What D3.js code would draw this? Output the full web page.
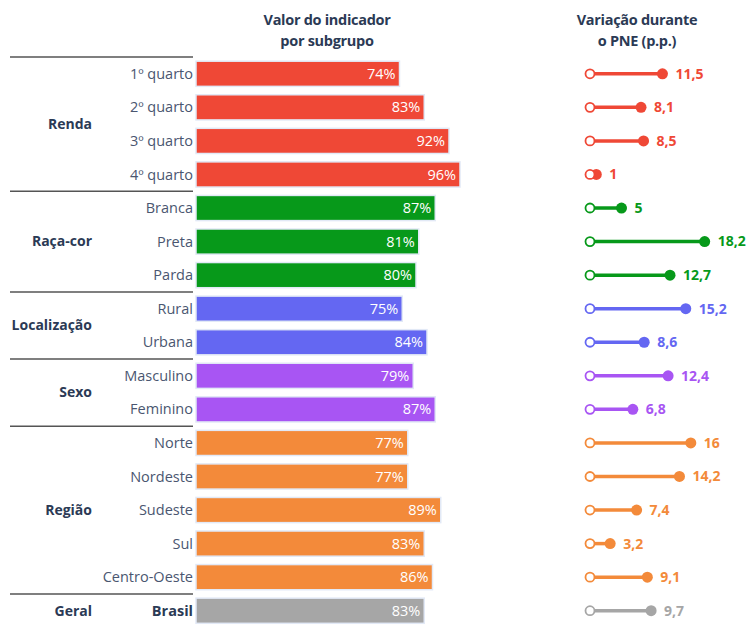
<!DOCTYPE html>
<html>
<head>
<meta charset="utf-8">
<script src="https://cdn.jsdelivr.net/npm/d3@7"></script>
<style>
  body { margin: 0; background: #fff; }
  text { font-family: "Open Sans", "Noto Sans", sans-serif; }
</style>
</head>
<body>
<div id="chart"></div>
<script>
// subgroups, in order top to bottom
var subgroups = ["1º quarto", "2º quarto", "3º quarto", "4º quarto",
    "Branca", "Preta", "Parda",
    "Rural", "Urbana",
    "Masculino", "Feminino",
    "Norte", "Nordeste", "Sudeste", "Sul", "Centro-Oeste",
    "Brasil"];
var group_of = ["Renda", "Renda", "Renda", "Renda",
    "Raça-cor", "Raça-cor", "Raça-cor",
    "Localização", "Localização",
    "Sexo", "Sexo",
    "Região", "Região", "Região", "Região", "Região",
    "Geral"];
var groups = ["Renda", "Raça-cor", "Localização", "Sexo", "Região", "Geral"];
var values = [74, 83, 92, 96, 87, 81, 80, 75, 84, 79, 87, 77, 77, 89, 83, 86, 83];
var variation = [11.5, 8.1, 8.5, 1, 5, 18.2, 12.7, 15.2, 8.6, 12.4, 6.8, 16, 14.2, 7.4, 3.2, 9.1, 9.7];
var group_colors = { "Renda": "#ef4836", "Raça-cor": "#07991a", "Localização": "#6467f2",
    "Sexo": "#a855f3", "Região": "#f38a3a", "Geral": "#a6a6a6" };

var width = 750, height = 625;
var svg = d3.select("#chart").append("svg")
    .attr("width", width)
    .attr("height", height);

var y = d3.scaleBand()
    .domain(d3.range(subgroups.length))
    .range([57, 627.5])
    .paddingInner(0.25)
    .paddingOuter(0.125);
var step = y.step();
function yc(i) { return y(i) + y.bandwidth() / 2; }

var x = d3.scaleLinear().domain([0, 100]).range([196, 471]);
var xv = d3.scaleLinear().domain([0, 20]).range([590, 716]);

var fmt = function (v) { return String(v).replace(".", ","); };

// headers
var title_color = "#2b3a55";
[["Valor do indicador", "por subgrupo", 327], ["Variação durante", "o PNE (p.p.)", 637]].forEach(function (h) {
    var t = svg.append("text")
        .attr("x", h[2]).attr("y", 25)
        .attr("text-anchor", "middle")
        .attr("font-size", 14.5).attr("font-weight", "bold")
        .attr("letter-spacing", -0.3)
        .attr("fill", title_color);
    t.append("tspan").attr("x", h[2]).text(h[0]);
    t.append("tspan").attr("x", h[2]).attr("dy", 21).text(h[1]);
});

// separator lines + group labels
groups.forEach(function (g) {
    var idx = d3.range(subgroups.length).filter(function (i) { return group_of[i] == g; });
    var first = idx[0], last = idx[idx.length - 1];
    svg.append("line")
        .attr("x1", 10).attr("x2", 193)
        .attr("y1", yc(first) - step / 2).attr("y2", yc(first) - step / 2)
        .attr("stroke", "#555").attr("stroke-width", 1.5);
    svg.append("text")
        .attr("x", 92)
        .attr("y", (yc(first) + yc(last)) / 2)
        .attr("dy", "0.35em")
        .attr("text-anchor", "end")
        .attr("font-size", 14).attr("font-weight", "bold")
        .attr("fill", title_color)
        .text(g);
});

// subgroup labels
svg.selectAll(".sub-label").data(subgroups)
    .enter().append("text")
    .attr("class", "sub-label")
    .attr("x", 193)
    .attr("y", function (d, i) { return yc(i); })
    .attr("dy", "0.35em")
    .attr("text-anchor", "end")
    .attr("font-size", 14.5)
    .attr("font-weight", function (d) { return d == "Brasil" ? "bold" : "normal"; })
    .attr("fill", function (d) { return d == "Brasil" ? title_color : "#4a5670"; })
    .text(function (d) { return d; });

// bars
svg.selectAll(".bar").data(values)
    .enter().append("rect")
    .attr("class", "bar")
    .attr("x", x(0))
    .attr("y", function (d, i) { return y(i); })
    .attr("width", function (d) { return x(d) - x(0); })
    .attr("height", y.bandwidth())
    .attr("fill", function (d, i) { return group_colors[group_of[i]]; })
    .attr("stroke", "#e2e9f6")
    .attr("stroke-width", 1.5);

svg.selectAll(".bar-label").data(values)
    .enter().append("text")
    .attr("class", "bar-label")
    .attr("x", function (d) { return x(d) - 4; })
    .attr("y", function (d, i) { return yc(i); })
    .attr("dy", "0.35em")
    .attr("text-anchor", "end")
    .attr("font-size", 14.5)
    .attr("fill", "#fff")
    .text(function (d) { return d + "%"; });

// dumbbells
var db = svg.selectAll(".db").data(variation)
    .enter().append("g")
    .attr("class", "db");
db.append("line")
    .attr("x1", xv(0))
    .attr("x2", function (d) { return xv(d); })
    .attr("y1", function (d, i) { return yc(i); })
    .attr("y2", function (d, i) { return yc(i); })
    .attr("stroke", function (d, i) { return group_colors[group_of[i]]; })
    .attr("stroke-width", 3.5);
db.append("circle")
    .attr("cx", function (d) { return xv(d); })
    .attr("cy", function (d, i) { return yc(i); })
    .attr("r", 5.5)
    .attr("fill", function (d, i) { return group_colors[group_of[i]]; });
db.append("circle")
    .attr("cx", xv(0))
    .attr("cy", function (d, i) { return yc(i); })
    .attr("r", 4.5)
    .attr("fill", "#fff")
    .attr("stroke", function (d, i) { return group_colors[group_of[i]]; })
    .attr("stroke-width", 1.8);
db.append("text")
    .attr("x", function (d) { return xv(d) + 13; })
    .attr("y", function (d, i) { return yc(i); })
    .attr("dy", "0.35em")
    .attr("font-size", 14)
    .attr("font-weight", "bold")
    .attr("fill", function (d, i) { return group_colors[group_of[i]]; })
    .text(function (d) { return fmt(d); });
</script>
</body>
</html>
